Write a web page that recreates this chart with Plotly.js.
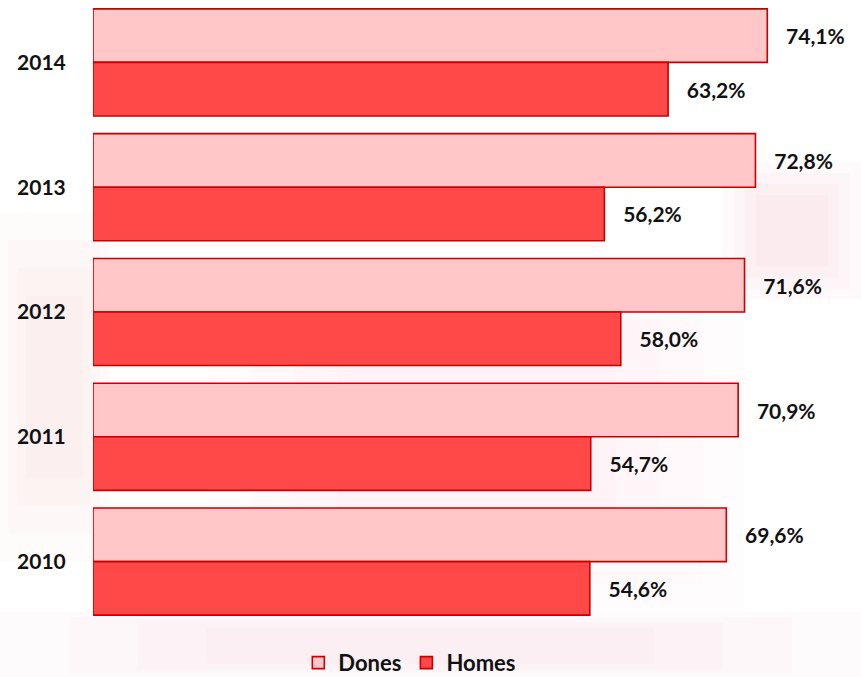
<!DOCTYPE html>
<html>
<head>
<meta charset="utf-8">
<script src="https://cdn.plot.ly/plotly-3.0.1.min.js"></script>
<style>html,body{margin:0;padding:0;background:#fff}#chart{width:861px;height:677px}</style>
</head>
<body>
<div id="chart"></div>
<script>
var years = ['2014', '2013', '2012', '2011', '2010'];
var dones = [74.1, 72.8, 71.6, 70.9, 69.6];
var homes = [63.2, 56.2, 58.0, 54.7, 54.6];
var seriesNames = ['Dones', 'Homes'];

function fmt(v) { return v.toFixed(1).replace('.', ',') + '%'; }
var pad = '\u2002\u2005';

var fam = 'Lato, "Open Sans", sans-serif';
var font = {family: fam, size: 21, color: '#111'};

var traces = [
  {
    type: 'bar', orientation: 'h', name: seriesNames[0],
    y: years, x: dones,
    text: dones.map(function (v) { return pad + fmt(v); }),
    textposition: 'outside', cliponaxis: false,
    textfont: {family: fam, size: 21, color: '#111', weight: 'bold'},
    marker: {color: '#FFC7C7', line: {color: '#C80000', width: 1.6}},
    hoverinfo: 'skip'
  },
  {
    type: 'bar', orientation: 'h', name: seriesNames[1],
    y: years, x: homes,
    text: homes.map(function (v) { return pad + fmt(v); }),
    textposition: 'outside', cliponaxis: false,
    textfont: {family: fam, size: 21, color: '#111', weight: 'bold'},
    marker: {color: '#FF4848', line: {color: '#C80000', width: 1.6}},
    hoverinfo: 'skip'
  }
];

function soft(x0, x1, y0, y1, a) {
  var out = [];
  for (var i = 0; i < 4; i++) {
    var dx = (x1 - x0) * 0.08 * i, dy = (y1 - y0) * 0.08 * i;
    out.push({type: 'rect', xref: 'paper', yref: 'paper', x0: x0 + dx, x1: x1 - dx, y0: y0 + dy, y1: y1 - dy,
      fillcolor: 'rgba(235,140,150,' + a + ')', line: {width: 0}, layer: 'below'});
  }
  return out;
}

var shapes = [].concat(
  soft(-0.121, 0.02, 0.10, 0.66, 0.035),
  soft(0.82, 1.0, 0.52, 0.74, 0.04),
  soft(0.15, 0.85, 0.02, 0.58, 0.025),
  soft(-0.121, 1.0, -0.09, 0.02, 0.03)
);

var layout = {
  width: 861, height: 677,
  margin: {l: 93, r: 0, t: 0, b: 53},
  paper_bgcolor: '#ffffff', plot_bgcolor: 'rgba(0,0,0,0)',
  barmode: 'group', bargap: 0.142, bargroupgap: 0,
  font: font,
  showlegend: true,
  legend: {
    orientation: 'h', xref: 'container', yref: 'container',
    x: 0.476, xanchor: 'center', y: 0.021, yanchor: 'middle',
    font: {family: fam, size: 22, color: '#111', weight: 'bold'},
    bgcolor: 'rgba(0,0,0,0)', itemwidth: 30, traceorder: 'normal'
  },
  xaxis: {range: [0, 84.4], visible: false, fixedrange: true},
  yaxis: {
    type: 'category', autorange: 'reversed',
    showgrid: false, zeroline: false, showline: false,
    ticks: 'outside', ticklen: 22, tickcolor: 'rgba(0,0,0,0)',
    tickfont: {family: fam, size: 21, color: '#111', weight: 'bold'}
  },
  shapes: shapes
};

Plotly.newPlot('chart', traces, layout, {displayModeBar: false, staticPlot: true});
</script>
</body>
</html>
